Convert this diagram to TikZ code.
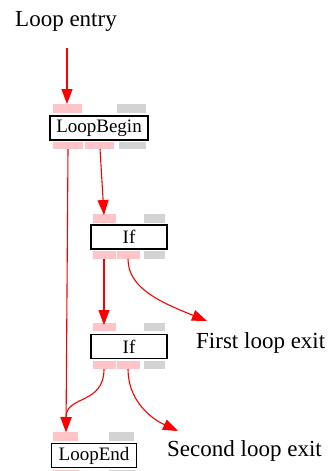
\documentclass[tikz,border=0pt]{standalone}
\usepackage{fontspec}
\setmainfont{Liberation Serif}
\usetikzlibrary{arrows.meta}
\definecolor{portpink}{HTML}{FFC4C8}
\definecolor{portgray}{HTML}{D3D3D3}
\tikzset{
  nodebox/.style={draw=black, line width=1.2pt, fill=white, inner sep=0pt, font=\fontsize{19}{19}\selectfont},
  pinkport/.style={fill=portpink, draw=none},
  grayport/.style={fill=portgray, draw=none},
  lbl/.style={inner sep=0pt, font=\fontsize{23}{23}\selectfont},
  edge/.style={draw=red, line width=1.1pt, -{Triangle[length=15pt,width=11pt]}},
}
\begin{document}
\begin{tikzpicture}[x=1pt,y=-1pt]
\useasboundingbox (0,0) rectangle (328,471);
% labels
\node[lbl, anchor=base] (entry) at (66,27) {Loop entry};
\node[lbl, anchor=base west] (exit1) at (196,348) {First loop exit};
\node[lbl, anchor=base west] (exit2) at (167,456) {Second loop exit};
% LoopBegin
\fill[pinkport] (53,104) rectangle (82,113);
\fill[grayport] (117,104) rectangle (146,113);
\node[nodebox, minimum width=98pt, minimum height=24pt] (lb) at (99,128) {LoopBegin};
\fill[pinkport] (53,142) rectangle (83,149);
\fill[pinkport] (85,142) rectangle (114,149);
\fill[grayport] (119,142) rectangle (146,149);
\coordinate (lbin) at (67,104);
\coordinate (lbo1) at (68,149);
\coordinate (lbo2) at (100,149);
% If 1
\fill[pinkport] (93,214) rectangle (116,223);
\fill[grayport] (144,214) rectangle (165,223);
\node[nodebox, minimum width=76pt, minimum height=24pt] (ifa) at (129,237) {If};
\fill[pinkport] (93,251) rectangle (116,259);
\fill[pinkport] (117,251) rectangle (140,259);
\fill[grayport] (144,251) rectangle (165,259);
\coordinate (ifain) at (104,215);
\coordinate (ifao1) at (104,259);
\coordinate (ifao2) at (128,259);
% If 2
\fill[pinkport] (93,323) rectangle (116,331);
\fill[grayport] (144,323) rectangle (165,331);
\node[nodebox, minimum width=76pt, minimum height=24pt] (ifb) at (129,346.5) {If};
\fill[pinkport] (93,361) rectangle (116,369);
\fill[pinkport] (117,361) rectangle (140,369);
\fill[grayport] (144,361) rectangle (165,369);
\coordinate (ifbin) at (104,325);
\coordinate (ifbo1) at (104,369);
\coordinate (ifbo2) at (128,369);
% LoopEnd
\fill[pinkport] (53,432) rectangle (78,441);
\fill[grayport] (109,432) rectangle (134,441);
\node[nodebox, minimum width=85pt, minimum height=24pt] (le) at (94,455.5) {LoopEnd};
\fill[pinkport] (53,470) rectangle (79,478);
\fill[grayport] (109,470) rectangle (135,478);
\coordinate (lein) at (66,432);
% exits
\coordinate (ex1) at (207,321);
\coordinate (ex2) at (178,431);
\coordinate (entryend) at (67,48);
% edges
\draw[edge] (entryend) -- (lbin);
\draw[edge] (lbo1) -- (lein);
\draw[edge] (lbo2) -- (ifain);
\draw[edge] (ifao1) -- (ifbin);
\draw[edge] (ifao2) .. controls (128,288) and (160,302) .. (ex1);
\draw[edge] (ifbo1) .. controls (104,405) and (66,395) .. (lein);
\draw[edge] (ifbo2) .. controls (128,400) and (150,418) .. (ex2);
\end{tikzpicture}
\end{document}
